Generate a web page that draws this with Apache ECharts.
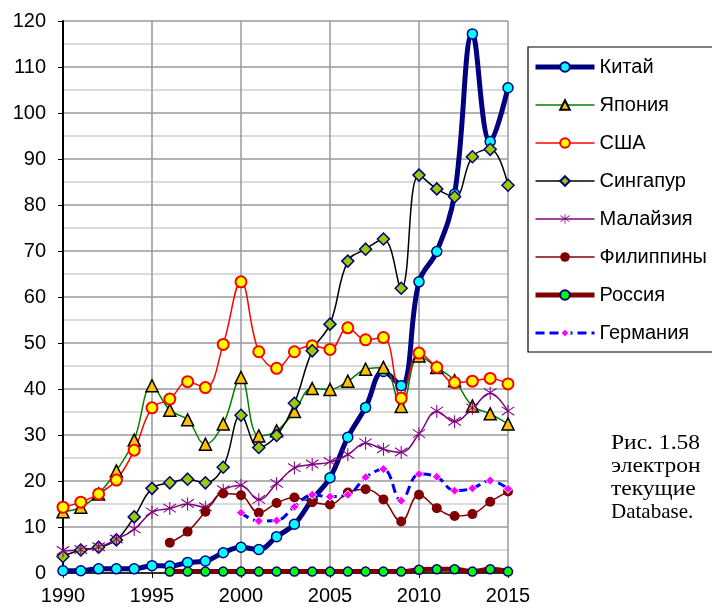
<!DOCTYPE html>
<html>
<head>
<meta charset="utf-8">
<script src="https://cdn.jsdelivr.net/npm/echarts@6/dist/echarts.min.js"></script>
<style>
    html, body { margin: 0; padding: 0; background: #fff; }
    #chart { width: 712px; height: 610px; }
</style>
</head>
<body>
<div id="chart"></div>
<script>
var years = [];
for (let y = 1990; y <= 2015; y++) {
    years.push(String(y));
}

var china = [0.5, 0.5, 0.9, 0.9, 0.9, 1.6, 1.5, 2.3, 2.6, 4.4, 5.6, 5.1, 7.9, 10.6, 16.0, 20.7,
    29.5, 36.0, 43.8, 40.7, 63.3, 69.9, 82.4, 117.2, 93.8, 105.5];
var japan = [13.3, 14.3, 17.2, 22.2, 28.9, 40.7, 35.4, 33.3, 28.0, 32.4, 42.5, 29.8, 30.9, 35.1, 40.1, 39.9,
    41.7, 44.3, 44.7, 36.2, 47.2, 44.7, 41.8, 36.3, 34.6, 32.4];
var usa = [14.3, 15.4, 17.2, 20.2, 26.7, 35.9, 37.8, 41.6, 40.3, 49.7, 63.3, 48.1, 44.5, 48.1, 49.4, 48.6,
    53.3, 50.7, 51.2, 38.0, 47.8, 44.7, 41.4, 41.7, 42.3, 41.1];
var singapore = [3.6, 5.0, 5.6, 7.2, 12.2, 18.4, 19.6, 20.4, 19.6, 23.0, 34.3, 27.3, 29.9, 36.9, 48.3, 54.1,
    67.8, 70.4, 72.6, 61.9, 86.5, 83.5, 81.8, 90.5, 92.1, 84.3];
var malaysia = [4.8, 5.0, 5.6, 7.3, 9.5, 13.2, 14.0, 15.0, 14.3, 18.0, 19.0, 15.9, 19.4, 22.8, 23.6, 24.1,
    25.7, 28.2, 26.9, 26.2, 30.2, 35.1, 32.9, 35.8, 39.1, 35.1];
var philippines = [null, null, null, null, null, null, 6.6, 9.0, 13.3, 17.3, 16.9, 13.1, 15.2, 16.4, 15.4, 14.9,
    17.5, 18.2, 16.0, 11.2, 17.0, 14.1, 12.4, 12.8, 15.5, 17.7];
var russia = [null, null, null, null, null, null, 0.3, 0.3, 0.3, 0.3, 0.3, 0.3, 0.3, 0.3, 0.3, 0.3,
    0.3, 0.3, 0.3, 0.3, 0.7, 0.8, 0.8, 0.3, 0.8, 0.3];
var germany = [null, null, null, null, null, null, null, null, null, null, 13.1, 11.3, 11.4, 14.4, 17.0, 16.6,
    17.0, 20.8, 22.6, 15.7, 21.5, 20.9, 17.9, 18.4, 20.1, 18.3];

var names = ['Китай', 'Япония', 'США', 'Сингапур', 'Малайзия', 'Филиппины', 'Россия', 'Германия'];
var captionLines = ['Рис. 1.58', 'электрон', 'текущие', 'Database.'];

// asterisk marker like the excel "star"
var starPath = 'path://M9.2,0L10.8,0L10.8,20L9.2,20Z' +
    'M0,3.5L0.8,2.1L20,15.1L19.2,16.5Z' +
    'M19.2,2.1L20,3.5L0.8,16.5L0,15.1Z';

function makeSeries(name, data, lineColor, lineWidth, symbol, size, fill, border, borderWidth, dashed) {
    return {
        name: name,
        type: 'line',
        data: data,
        smooth: 0.4,
        showAllSymbol: true,
        symbol: symbol,
        symbolSize: size,
        lineStyle: {
            color: lineColor,
            width: lineWidth,
            type: dashed ? [9, 5] : 'solid'
        },
        itemStyle: {
            color: fill,
            borderColor: border,
            borderWidth: borderWidth
        },
        emphasis: { disabled: true }
    };
}

var chart = echarts.init(document.getElementById('chart'));

var series = [
    makeSeries(names[0], china, '#000080', 5, 'circle', 10, '#00ffff', '#000080', 1.5, false),
    makeSeries(names[1], japan, '#008000', 1.5, 'triangle', 12, '#ffc000', '#000000', 1.5, false),
    makeSeries(names[2], usa, '#ff0000', 1.5, 'circle', 11, '#ffff00', '#ff0000', 2, false),
    makeSeries(names[3], singapore, '#000000', 1.5, 'diamond', 12, '#99cc00', '#000080', 1.5, false),
    makeSeries(names[4], malaysia, '#800080', 1.5, starPath, 13, '#800080', '#800080', 0, false),
    makeSeries(names[5], philippines, '#800000', 1.5, 'circle', 10, '#800000', '#800000', 0, false),
    makeSeries(names[6], russia, '#800000', 5, 'circle', 9, '#00ff00', '#000080', 1.5, false),
    makeSeries(names[7], germany, '#0000ff', 3, 'diamond', 9, '#ff00ff', '#ffffff', 1, true)
];

// caption on the right, cut by the picture edge as in the source
var graphics = [];
for (let i = 0, len = captionLines.length; i < len; i++) {
    var isLatin = i === captionLines.length - 1;
    graphics.push({
        type: 'text',
        x: 611,
        y: 433 + i * 23,
        scaleX: isLatin ? 1 : 1.12,
        style: {
            text: captionLines[i],
            font: '21px "Liberation Serif"',
            fill: '#000'
        }
    });
}

var option = {
    animation: false,
    backgroundColor: '#fff',
    textStyle: { fontFamily: 'Liberation Sans' },
    grid: { left: 63, right: 204, top: 21, bottom: 37 },
    legend: {
        data: names,
        orient: 'vertical',
        left: 528,
        top: 47,
        padding: [10, 30, 9, 5],
        borderColor: '#000',
        borderWidth: 1.2,
        itemWidth: 59,
        itemHeight: 12,
        itemGap: 18,
        selectedMode: false,
        lineStyle: { width: 'inherit' },
        textStyle: {
            fontSize: 20,
            lineHeight: 20,
            color: '#000',
            fontFamily: 'Liberation Sans'
        }
    },
    xAxis: {
        type: 'category',
        data: years,
        boundaryGap: false,
        axisLine: { lineStyle: { color: '#000', width: 1.5 } },
        axisTick: { interval: 4, length: 5, lineStyle: { color: '#000' } },
        axisLabel: {
            interval: 4,
            fontSize: 20,
            color: '#000',
            margin: 13
        },
        splitLine: {
            show: true,
            interval: 4,
            lineStyle: { color: '#999', width: 1.5 }
        }
    },
    yAxis: {
        type: 'value',
        min: 0,
        max: 120,
        interval: 10,
        axisLine: { show: true, lineStyle: { color: '#000', width: 2 } },
        axisTick: { show: true, length: 5, lineStyle: { color: '#000' } },
        axisLabel: {
            fontSize: 20,
            color: '#000',
            margin: 17
        },
        minorTick: { show: false, splitNumber: 2 },
        minorSplitLine: {
            show: true,
            lineStyle: { color: '#d0d0d0', width: 1.5 }
        },
        splitLine: {
            show: true,
            lineStyle: { color: '#999', width: 1.5 }
        }
    },
    graphic: graphics,
    series: series
};

chart.setOption(option);
</script>
</body>
</html>
